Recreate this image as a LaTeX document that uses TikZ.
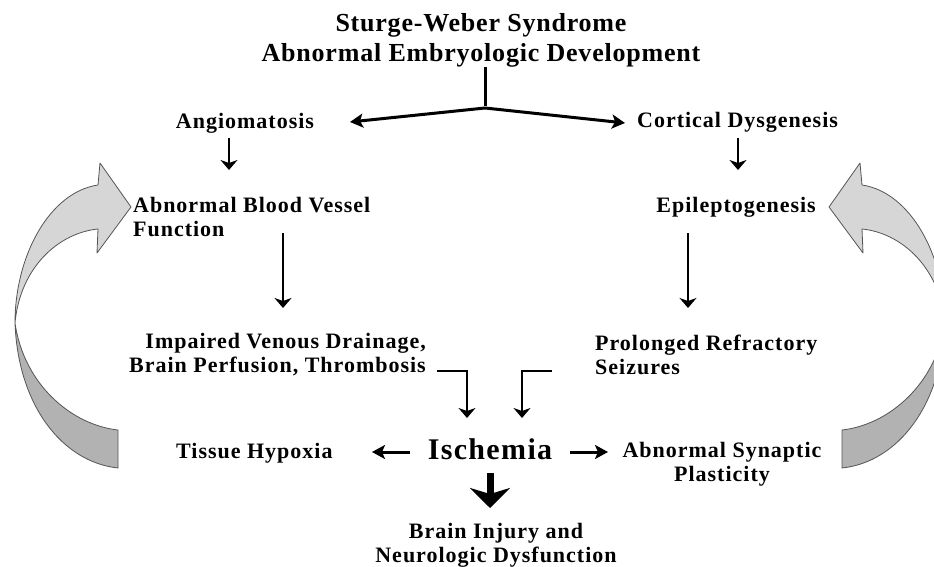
\documentclass[tikz,border=0pt]{standalone}
\usepackage{fontspec}
\setmainfont{Liberation Serif}
\newfontfamily\lbfont{Liberation Serif}[LetterSpace=4.5]
\newfontfamily\ttlfont{Liberation Serif}[LetterSpace=3]
\usetikzlibrary{arrows.meta}
\definecolor{ribbonlight}{HTML}{D6D6D6}
\definecolor{ribbondark}{HTML}{B2B2B2}
\definecolor{ribbonedge}{HTML}{555555}
\newcommand\ribbonarrow{%
  \filldraw[fill=ribbonlight, draw=ribbonedge, line width=0.8pt, line join=round]
    (15,323) .. controls (15,255) and (50,192) .. (98,185)
    -- (100,163) -- (131,207) -- (97,253) -- (98,229)
    .. controls (58,233) and (20,268) .. (15,323) -- cycle;
  \filldraw[fill=ribbondark, draw=ribbonedge, line width=0.8pt, line join=round]
    (15,323) .. controls (18,405) and (62,462) .. (118,468)
    -- (118,430) .. controls (72,425) and (24,385) .. (15,323) -- cycle;
}
\begin{document}
\begin{tikzpicture}[x=1pt,y=-1pt,
  lbl/.style={inner sep=0pt, font=\fontsize{22}{24}\selectfont\lbfont\bfseries},
  ttl/.style={inner sep=0pt, font=\fontsize{26}{30}\selectfont\ttlfont\bfseries},
  isch/.style={inner sep=0pt, font=\fontsize{30}{34}\selectfont\lbfont\bfseries},
  varr/.style={line width=2.6pt, -{Stealth[length=10pt,width=17pt,inset=3pt]}},
  tarr/.style={line width=3pt, line join=round, -{Stealth[length=13pt,width=14pt,inset=3pt]}},
  sarr/.style={line width=3pt, -{Stealth[length=13pt,width=14pt,inset=3pt]}},
  barr/.style={line width=7pt, -{Stealth[length=20pt,width=40pt,inset=6pt]}},
  stemline/.style={line width=3pt}]
\useasboundingbox (0,0) rectangle (934,567);
\fill[white] (0,0) rectangle (934,567);

% big ribbon arrows
\begin{scope}
  \clip (0,0) rectangle (934,567);
  \ribbonarrow
  \begin{scope}[xshift=960pt, xscale=-1]
    \ribbonarrow
  \end{scope}
\end{scope}

% nodes
\node[ttl, anchor=north, align=center] (title) at (481,13) {Sturge-Weber Syndrome\\Abnormal Embryologic Development};
\node[lbl, anchor=north] (angio) at (245,113) {Angiomatosis};
\node[lbl, anchor=north west] (cort) at (637,112) {Cortical Dysgenesis};
\node[lbl, anchor=north west, align=left] (abv) at (133,197) {Abnormal Blood Vessel\\Function};
\node[lbl, anchor=north east] (epi) at (816,197) {Epileptogenesis};
\node[lbl, anchor=north east, align=right] (ivd) at (426,333) {Impaired Venous Drainage,\\Brain Perfusion, Thrombosis};
\node[lbl, anchor=north west, align=left] (prs) at (595,335) {Prolonged Refractory\\Seizures};
\node[isch, anchor=north] (isc) at (490,438) {Ischemia};
\node[lbl, anchor=north west] (hyp) at (176,443) {Tissue Hypoxia};
\node[lbl, anchor=north, align=center] (syn) at (722,442) {Abnormal Synaptic\\Plasticity};
\node[lbl, anchor=north, align=center] (inj) at (496,523) {Brain Injury and\\Neurologic Dysfunction};

% connector points
\coordinate (jn) at (485,108);
\coordinate (angtip) at (350,122);
\coordinate (cortip) at (625,123);
\coordinate (a1s) at (229,138); \coordinate (a1e) at (229,170);
\coordinate (c1s) at (738,138); \coordinate (c1e) at (738,170);
\coordinate (a2s) at (283,233); \coordinate (a2e) at (283,308);
\coordinate (c2s) at (688,233); \coordinate (c2e) at (688,308);
\coordinate (l1) at (437,371); \coordinate (l2) at (467,371); \coordinate (l3) at (467,418);
\coordinate (r1) at (552,371); \coordinate (r2) at (522,371); \coordinate (r3) at (522,418);
\coordinate (hs) at (410,452); \coordinate (he) at (372,452);
\coordinate (ss) at (570,452); \coordinate (se) at (608,452);
\coordinate (bs) at (490,473); \coordinate (be) at (490,508);

% connectors
\draw[stemline] (title.south -| jn) -- ([yshift=1.5pt]jn);
\draw[tarr] (jn) -- (angtip);
\draw[tarr] (jn) -- (cortip);
\draw[varr] (a1s) -- (a1e);
\draw[varr] (c1s) -- (c1e);
\draw[varr] (a2s) -- (a2e);
\draw[varr] (c2s) -- (c2e);
\draw[varr] (l1) -- (l2) -- (l3);
\draw[varr] (r1) -- (r2) -- (r3);
\draw[sarr] (hs) -- (he);
\draw[sarr] (ss) -- (se);
\draw[barr] (bs) -- (be);
\end{tikzpicture}
\end{document}
